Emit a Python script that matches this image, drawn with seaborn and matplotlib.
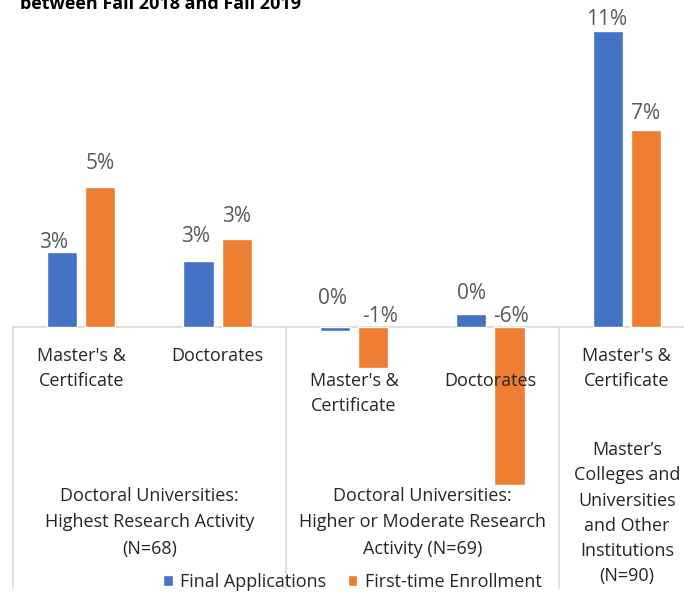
import matplotlib.pyplot as plt
import pandas as pd
import seaborn as sns

# percent change between Fall 2018 and Fall 2019
slots = [0, 1, 2, 3, 4]
degree_labels = ["Master's &\nCertificate", "Doctorates", "Master's &\nCertificate",
                 "Doctorates", "Master's &\nCertificate"]
final_applications = [2.84, 2.5, -0.15, 0.49, 11.2]
first_time_enrollment = [5.3, 3.33, -1.55, -6.0, 7.46]
app_text = ["3%", "3%", "0%", "0%", "11%"]
enr_text = ["5%", "3%", "-1%", "-6%", "7%"]
groups = ["Doctoral Universities:\nHighest Research Activity\n(N=68)",
          "Doctoral Universities:\nHigher or Moderate Research\nActivity (N=69)",
          "Master\u2019s\nColleges and\nUniversities\nand Other\nInstitutions\n(N=90)"]
series = ["Final Applications", "First-time Enrollment"]

df = pd.DataFrame({
    "slot": slots * 2,
    "series": [series[0]] * 5 + [series[1]] * 5,
    "value": final_applications + first_time_enrollment,
})

sns.set_style("white")
plt.rcParams["font.family"] = ["Open Sans", "DejaVu Sans"]

W, H = 684, 592
zero_px = 327      # pixel row of the zero line
ppu = 26.4         # pixels per percentage point


def py(p):
    # pixel row -> data y
    return (zero_px - p) / ppu


fig = plt.figure(figsize=(W / 100, H / 100), dpi=100)
ax = fig.add_axes([13 / W, 0, 682 / W, 1])
sns.barplot(data=df, x="slot", y="value", hue="series", palette=["#4472C4", "#ED7D31"],
            width=0.56, gap=0.21, saturation=1, ax=ax, legend=True)
ax.set_xlim(-0.5, 4.5)
ax.set_ylim(py(H), py(0))
ax.axis("off")

grid = "#d9d9d9"
ax.axhline(0, color=grid, lw=1.2, zorder=0)
for xs in [-0.5, 1.5, 3.5]:
    ax.plot([xs, xs], [0, py(588)], color=grid, lw=1.2, clip_on=False)

# data labels (lift = pixels between bar end / zero line and label centre)
lbl = dict(ha="center", va="center", fontsize=15, color="#595959")
app_lift = [10, 24, 29, 21, 12]
enr_lift = [24, 23, 10, 11, 17]
app_dx = [-0.2, -0.16, -0.16, -0.14, -0.15]
enr_dx = [0.14, 0.14, 0.19, 0.15, 0.14]
for i in slots:
    a, e = final_applications[i], first_time_enrollment[i]
    ax.text(i + app_dx[i], max(a, 0) + app_lift[i] / ppu, app_text[i], **lbl)
    ax.text(i + enr_dx[i], max(e, 0) + enr_lift[i] / ppu, enr_text[i], **lbl)

# category axis text
cat = dict(ha="center", va="top", fontsize=13, color="#262626")
for i in slots:
    top = 347 if i not in (2, 3) else 372
    ax.text(i, py(top), degree_labels[i], linespacing=1.5, **cat)
ax.text(0.5, py(487), groups[0], linespacing=1.6, **cat)
ax.text(2.5, py(487), groups[1], linespacing=1.6, **cat)
ax.text(4.0, py(441), groups[2], linespacing=1.52, **cat)

fig.text(20 / W, 1 - 9 / H, "between Fall 2018 and Fall 2019", fontsize=13,
         fontweight="bold", va="baseline", color="#000000")

h, l = ax.get_legend_handles_labels()
ax.get_legend().remove()
fig.legend(h, l, loc="center", bbox_to_anchor=(352 / W, 1 - 582 / H), ncol=2,
           frameon=False, fontsize=13, handlelength=0.55, handleheight=0.55,
           handletextpad=0.4, columnspacing=1.2, labelcolor="#262626")

fig.savefig("out.png", dpi=100)
